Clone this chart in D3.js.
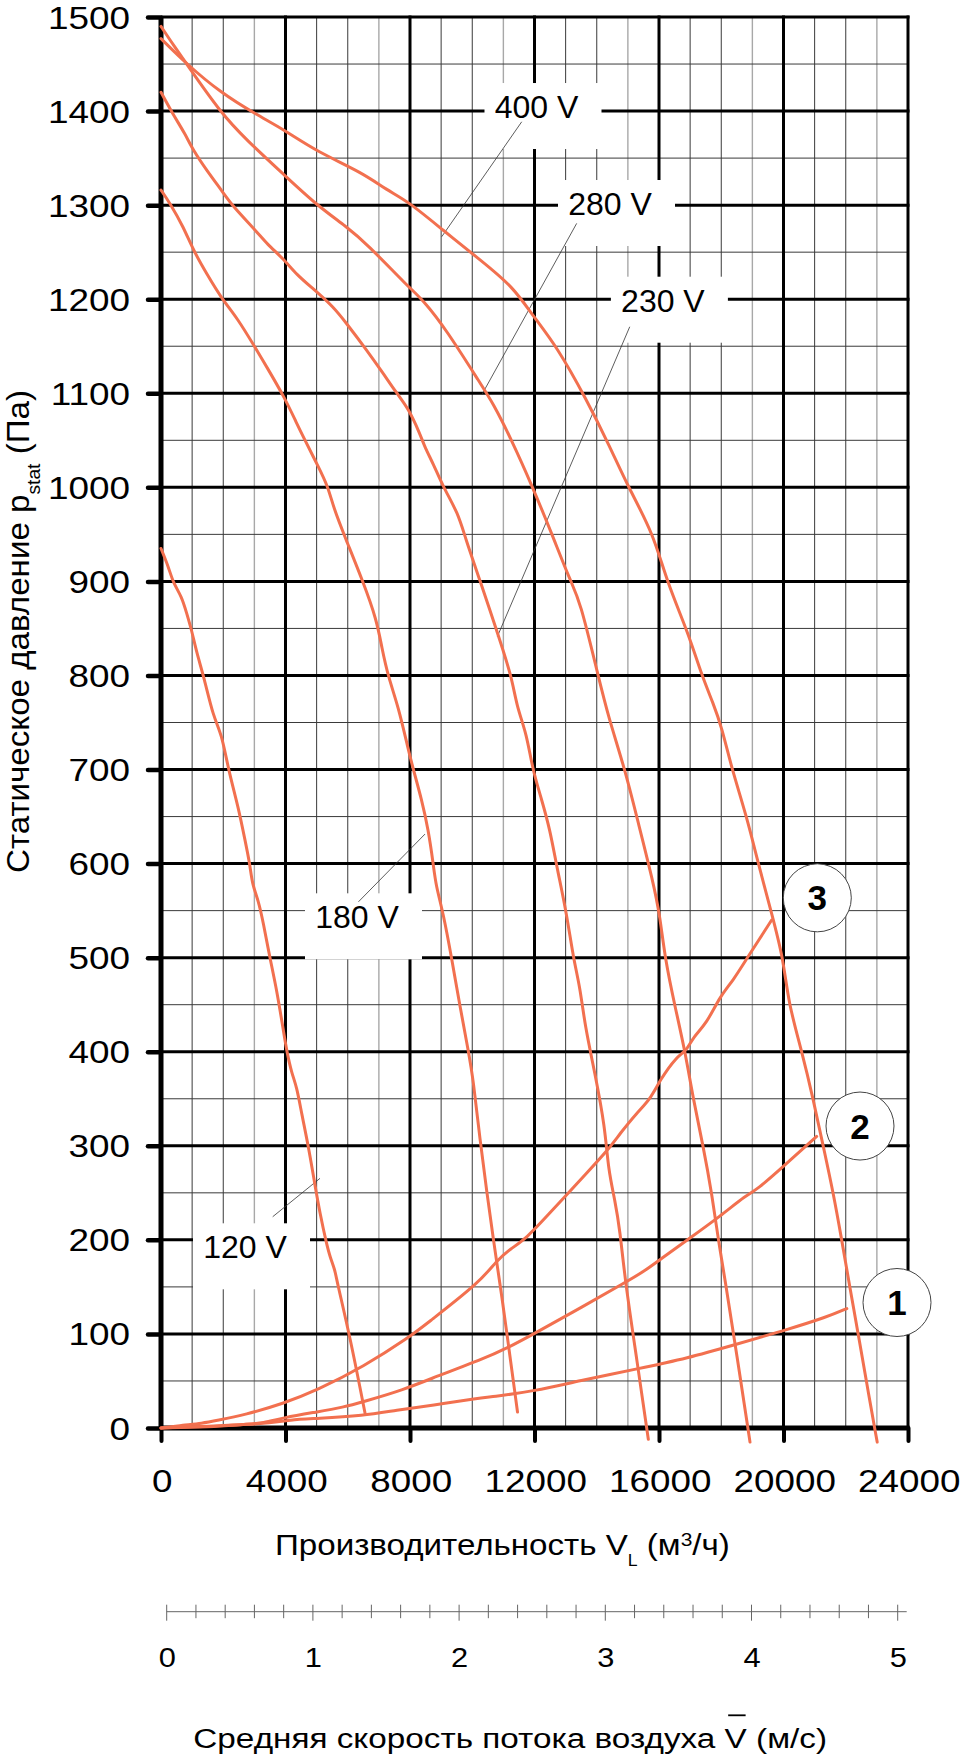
<!DOCTYPE html>
<html><head><meta charset="utf-8">
<script src="https://cdn.jsdelivr.net/npm/d3@7"></script>
<style>
html,body{margin:0;padding:0;background:#fff;}
svg{display:block;}
text{font-family:"Liberation Sans",Arial,Helvetica,sans-serif;}
</style></head><body>
<svg id="chart" width="961" height="1756"></svg>
<script>
// ---------- data ----------
const xTicks = [0, 4000, 8000, 12000, 16000, 20000, 24000];
const yTicks = [0, 100, 200, 300, 400, 500, 600, 700, 800, 900, 1000, 1100, 1200, 1300, 1400, 1500];
const speedTicks = [0, 1, 2, 3, 4, 5];

const fan400 = [[0,1477],[826,1450],[1896,1420],[3074,1396],[3962,1380],[5002,1357],[6500,1334],[7251,1316],[7946,1304],[9071,1273],[10249,1242],[11319,1213],[11930,1183],[12713,1150],[13677,1093],[14426,1043],[15014,1000],[15817,951],[16247,900],[16942,845],[17372,800],[17747,770],[18015,745],[18336,701],[18818,650],[19190,600],[19620,547],[19995,499],[20155,452],[20584,401],[20959,349],[21280,299],[21600,250],[21870,200],[22130,150],[22400,100],[22660,50],[23010,-15]];
const fan280 = [[0,1490],[400,1470],[826,1450],[1896,1399],[2753,1369],[3962,1332],[5002,1300],[5966,1277],[6609,1259],[7946,1213],[8428,1199],[9178,1167],[10249,1111],[10677,1089],[11268,1050],[11930,1001],[12552,951],[13141,901],[13462,880],[14050,799],[14372,756],[14908,700],[15283,650],[15817,580],[16032,544],[16193,499],[16514,448],[16835,401],[17103,349],[17424,299],[17693,250],[17906,200],[18120,158],[18500,78],[18924,-15]];
const fan230 = [[0,1420],[395,1396],[771,1376],[1038,1358],[1467,1337],[1982,1314],[2324,1298],[3074,1272],[3396,1259],[3962,1242],[4360,1226],[4893,1211],[5536,1192],[5966,1174],[6609,1146],[7142,1121],[7572,1100],[7946,1084],[8321,1057],[8482,1042],[8750,1025],[9071,1000],[9553,972],[9767,947],[10249,901],[10784,848],[11268,799],[11428,767],[11749,738],[11930,701],[12231,668],[12498,636],[12713,597],[13034,547],[13248,499],[13462,469],[13623,427],[13944,377],[14265,320],[14372,274],[14586,242],[14747,210],[14908,157],[15300,70],[15657,-12]];
const fan180 = [[0,1316],[289,1302],[717,1277],[1038,1252],[1467,1227],[1982,1199],[2432,1181],[3074,1146],[3396,1128],[3962,1096],[4360,1068],[4627,1050],[5054,1022],[5375,1000],[5536,979],[5912,947],[6500,899],[6930,859],[7091,830],[7304,798],[7625,767],[7946,721],[8107,700],[8375,668],[8589,636],[8750,599],[8830,577],[9071,547],[9340,499],[9607,448],[9874,401],[10035,370],[10249,306],[10464,252],[10677,200],[10892,155],[11454,17]];
const fan120 = [[0,935],[235,916],[395,898],[665,884],[826,866],[986,848],[1147,824],[1382,798],[1680,756],[1950,738],[2163,700],[2484,660],[2699,625],[2859,599],[2930,578],[3127,561],[3288,537],[3502,499],[3717,466],[3930,423],[4038,401],[4199,377],[4360,363],[4520,334],[4733,300],[4948,258],[5108,228],[5324,195],[5430,182],[5590,168],[5645,157],[6072,97],[6554,16]];

const system3 = [[0,0],[717,3],[1320,5],[1790,8],[2700,14],[3930,26],[5002,40],[6500,65],[8000,97],[8536,111],[10249,155],[10784,178],[11213,190],[11749,202],[12392,225],[13034,248],[13677,271],[14372,296],[14747,313],[15283,335],[15711,349],[16032,370],[16568,395],[16890,401],[17103,416],[17532,430],[17960,459],[18390,476],[18818,499],[19620,540]];
const system2 = [[0,0],[1574,1],[2700,4],[3288,5],[3930,11],[5002,17],[5860,22],[6500,28],[7750,40],[9015,57],[10249,72],[11190,86],[11970,100],[13550,129],[14930,155],[15497,166],[16032,179],[16996,202],[17960,225],[18818,248],[19138,253],[19995,278],[21066,310]];
const system1 = [[0,0],[3400,4],[4145,9],[5002,10],[6500,13],[7572,19],[8700,24],[10249,32],[10590,33],[11970,39],[13550,51],[15325,63],[16905,74],[18485,89],[20063,104],[21400,118],[22035,127]];

const fanCurves = [fan400, fan280, fan230, fan180, fan120];
const systemCurves = [system1, system2, system3];

const fanLabels = ["400 V", "280 V", "230 V", "180 V", "120 V"];
const fanLabelAt = [[12064,1392.6],[14426,1289.5],[16125,1186.7],[6297,531.2],[2699,180.4]];
const fanLeaderFrom = [[11589,1388.6],[13355,1280.6],[15060,1170.7],[6344,559.4],[3589,224.6]];
const fanLeaderTo = [[9019,1266.4],[10313,1098.8],[10805,841.2],[8482,631.4],[5108,265.4]];

const systemLabels = ["1", "2", "3"];
const systemLabelAt = [[23647,133.4],[22458,321],[21086,563.6]];

// ---------- layout ----------
const svg = d3.select("#chart");
const x = d3.scaleLinear().domain([0, 24000]).range([161, 908]);
const y = d3.scaleLinear().domain([0, 1500]).range([1428, 17]);
const v = d3.scaleLinear().domain([0, 5]).range([166.7, 897.7]);
const ORANGE = "#f2704f";

// minor grid
const xMinor = d3.range(0, 24001, 1000).filter(d => d % 4000 !== 0);
const yMinor = d3.range(0, 1501, 50).filter(d => d % 100 !== 0);
const grid = svg.append("g");
grid.selectAll(".vmin").data(xMinor).join("line")
  .attr("x1", d => x(d)).attr("x2", d => x(d)).attr("y1", y(1500)).attr("y2", y(0))
  .attr("stroke", d => (d / 1000) % 4 === 3 ? "#a8a8a8" : "#3a3a3a")
  .attr("stroke-width", d => (d / 1000) % 4 === 3 ? 1.4 : 1);
grid.selectAll(".hmin").data(yMinor).join("line")
  .attr("x1", x(0)).attr("x2", x(24000)).attr("y1", d => y(d)).attr("y2", d => y(d))
  .attr("stroke", "#3a3a3a").attr("stroke-width", 1);
// major grid
grid.selectAll(".vmaj").data(xTicks.slice(1)).join("line")
  .attr("x1", d => x(d)).attr("x2", d => x(d)).attr("y1", y(1500) - 1.5).attr("y2", y(0))
  .attr("stroke", "#000").attr("stroke-width", 3);
grid.selectAll(".hmaj").data(yTicks.slice(1)).join("line")
  .attr("x1", x(0)).attr("x2", x(24000) + 1.5).attr("y1", d => y(d)).attr("y2", d => y(d))
  .attr("stroke", "#000").attr("stroke-width", 3);

// label boxes (white) over grid
const lab = svg.append("g");
fanLabels.forEach((name, i) => {
  const cx = x(fanLabelAt[i][0]), by = y(fanLabelAt[i][1]);
  lab.append("rect").attr("x", cx - 52).attr("y", by - 35).attr("width", 117).attr("height", 66).attr("fill", "#fff");
});

// axes lines
svg.append("line").attr("x1", x(0)).attr("x2", x(0)).attr("y1", y(1500) - 1).attr("y2", y(0))
  .attr("stroke", "#000").attr("stroke-width", 5);
svg.append("line").attr("x1", x(0)).attr("x2", x(24000) + 1.5).attr("y1", y(0)).attr("y2", y(0))
  .attr("stroke", "#000").attr("stroke-width", 5);

// y axis ticks & labels
const yAxis = svg.append("g").attr("transform", `translate(${x(0)},0)`)
  .call(d3.axisLeft(y).tickValues(yTicks).tickSize(13).tickPadding(18).tickFormat(d3.format("d")));
yAxis.select(".domain").remove();
yAxis.attr("font-family", null).attr("font-size", null);
yAxis.selectAll(".tick line").attr("stroke", "#000").attr("stroke-width", 4.5).attr("stroke-linecap", "round");
yAxis.selectAll(".tick text").attr("font-size", 31).attr("fill", "#000").each(function () {
  const t = d3.select(this); const tx = +t.attr("x");
  t.attr("x", 0).attr("dy", null).attr("y", 0)
   .attr("transform", `translate(${tx},11) scale(1.19,1)`);
});

// x axis ticks & labels
const xAxis = svg.append("g").attr("transform", `translate(0,${y(0)})`)
  .call(d3.axisBottom(x).tickValues(xTicks).tickSize(13).tickPadding(20).tickFormat(d3.format("d")));
xAxis.select(".domain").remove();
xAxis.attr("font-family", null).attr("font-size", null);
xAxis.selectAll(".tick line").attr("stroke", "#000").attr("stroke-width", 4).attr("stroke-linecap", "round");
xAxis.selectAll(".tick text").attr("font-size", 32).attr("fill", "#000").each(function () {
  const t = d3.select(this);
  t.attr("y", 0).attr("dy", null).attr("transform", `translate(0.7,63.7) scale(1.15,1)`);
});

// leaders & fan labels
fanLabels.forEach((name, i) => {
  lab.append("line")
    .attr("x1", x(fanLeaderFrom[i][0])).attr("y1", y(fanLeaderFrom[i][1]))
    .attr("x2", x(fanLeaderTo[i][0])).attr("y2", y(fanLeaderTo[i][1]))
    .attr("stroke", "#333").attr("stroke-width", 0.8);
  lab.append("text").attr("x", x(fanLabelAt[i][0])).attr("y", y(fanLabelAt[i][1]))
    .attr("text-anchor", "middle").attr("font-size", 32).attr("fill", "#000").text(name);
});

// curves
const line = d3.line().x(d => x(d[0])).y(d => y(d[1])).curve(d3.curveBasis);
svg.append("g").selectAll("path").data(fanCurves.concat(systemCurves)).join("path")
  .attr("d", line).attr("fill", "none").attr("stroke", ORANGE).attr("stroke-width", 3)
  .attr("stroke-linejoin", "round").attr("stroke-linecap", "round");

// system markers
const mk = svg.append("g");
systemLabels.forEach((name, i) => {
  const cx = x(systemLabelAt[i][0]), cy = y(systemLabelAt[i][1]);
  mk.append("circle").attr("cx", cx).attr("cy", cy).attr("r", 34)
    .attr("fill", "#fff").attr("stroke", "#444").attr("stroke-width", 1);
  mk.append("text").attr("x", cx).attr("y", cy + 12.5).attr("text-anchor", "middle")
    .attr("font-size", 35).attr("font-weight", "bold").attr("fill", "#000").text(name);
});

// secondary speed axis
const sAxisY = 1611.7;
svg.append("line").attr("x1", v(0)).attr("x2", v(5) + 9).attr("y1", sAxisY).attr("y2", sAxisY)
  .attr("stroke", "#666").attr("stroke-width", 1);
const sMinor = d3.range(0, 26).map(k => k / 5);
svg.append("g").selectAll("line").data(sMinor).join("line")
  .attr("x1", d => v(d)).attr("x2", d => v(d))
  .attr("y1", sAxisY - 7).attr("y2", d => Number.isInteger(d) ? sAxisY + 9 : sAxisY + 6.5)
  .attr("stroke", "#666").attr("stroke-width", 1);
const sAxis = svg.append("g").attr("transform", `translate(0,${sAxisY})`)
  .call(d3.axisBottom(v).tickValues(speedTicks).tickSize(0).tickFormat(d3.format("d")));
sAxis.select(".domain").remove();
sAxis.attr("font-family", null).attr("font-size", null);
sAxis.selectAll(".tick text").attr("font-size", 28).attr("fill", "#000")
  .attr("y", 0).attr("dy", null).attr("transform", "translate(0,55) scale(1.1,1)");

// titles
function fitScale(node, target) {
  return target / node.getComputedTextLength();
}
// y title
{
  const g = svg.append("g");
  const t = g.append("text").attr("font-size", 31).attr("fill", "#000");
  t.append("tspan").text("Статическое давление p");
  t.append("tspan").attr("font-size", 18).attr("dy", 11).text("stat");
  t.append("tspan").attr("dy", -11).text(" (Па)");
  const s = fitScale(t.node(), 483);
  g.attr("transform", `translate(29,873) rotate(-90) scale(${s},1)`);
}
// x title
{
  const g = svg.append("g");
  const t = g.append("text").attr("font-size", 30).attr("fill", "#000");
  t.append("tspan").text("Производительность V");
  t.append("tspan").attr("font-size", 16).attr("dy", 11).text("L");
  t.append("tspan").attr("dy", -11).text(" (м");
  t.append("tspan").attr("font-size", 19).attr("dy", -9).text("3");
  t.append("tspan").attr("dy", 9).text("/ч)");
  const s = fitScale(t.node(), 455);
  g.attr("transform", `translate(275,1555) scale(${s},1)`);
}
// bottom title
{
  const g = svg.append("g");
  const pre = "Средняя скорость потока воздуха ";
  const t = g.append("text").attr("font-size", 28).attr("fill", "#000");
  t.append("tspan").text(pre);
  t.append("tspan").text("V");
  t.append("tspan").text(" (м/с)");
  const s = fitScale(t.node(), 634);
  g.attr("transform", `translate(193.3,1748.3) scale(${s},1)`);
  const ext = t.node().getExtentOfChar(pre.length);
  g.append("line").attr("x1", ext.x + 3).attr("x2", ext.x + ext.width - 1)
    .attr("y1", -33).attr("y2", -33).attr("stroke", "#000").attr("stroke-width", 1.8);
}
</script>
</body></html>
